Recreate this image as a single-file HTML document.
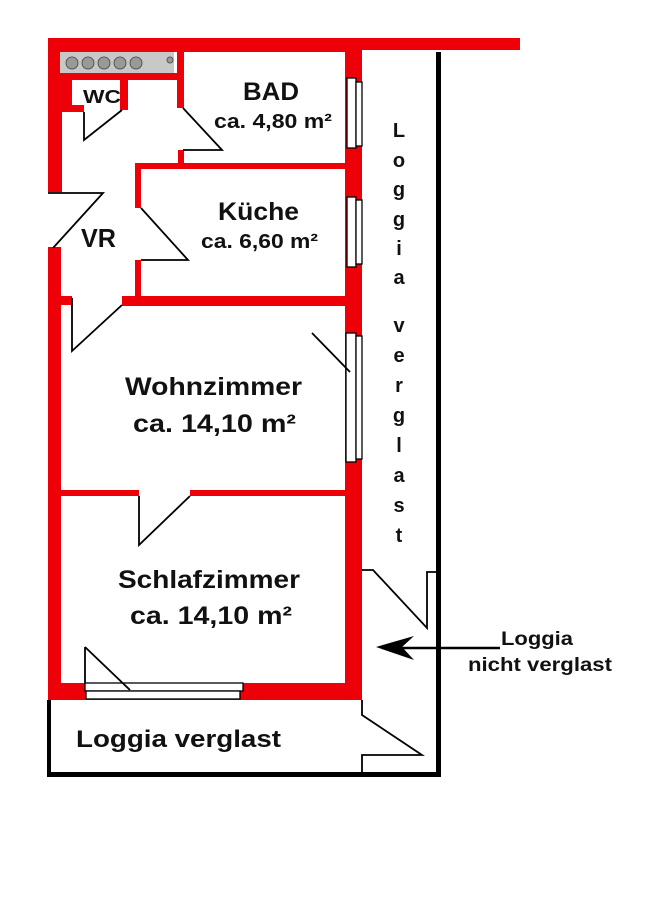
<!DOCTYPE html>
<html><head><meta charset="utf-8"><style>
html,body{margin:0;padding:0;background:#fff;}
svg{display:block;}
text{font-family:"Liberation Sans","DejaVu Sans",sans-serif;font-weight:bold;fill:#111;}
</style></head><body>
<svg width="657" height="919" viewBox="0 0 657 919" xmlns="http://www.w3.org/2000/svg">
<rect width="657" height="919" fill="#fff"/>
<g fill="#ee0008">
<rect x="48" y="38" width="472" height="12"/>
<rect x="48" y="38" width="300" height="14"/>
<rect x="48" y="38" width="14" height="154"/>
<rect x="48" y="247" width="13" height="453"/>
<rect x="60" y="73" width="118" height="7"/>
<rect x="60" y="80" width="12" height="30"/>
<rect x="60" y="105" width="24" height="7"/>
<rect x="120" y="80" width="8" height="30"/>
<rect x="177" y="50" width="7" height="58"/>
<rect x="178" y="150" width="6" height="16"/>
<rect x="135" y="163" width="212" height="6"/>
<rect x="135" y="163" width="6" height="45"/>
<rect x="135" y="260" width="6" height="42"/>
<rect x="122" y="296" width="225" height="10"/>
<rect x="61" y="296" width="11" height="9"/>
<rect x="61" y="490" width="78" height="6"/>
<rect x="190" y="490" width="157" height="6"/>
<rect x="345" y="38" width="17" height="662"/>
<rect x="48" y="683" width="314" height="17"/>
</g>
<rect x="60" y="52" width="114" height="21" fill="#c8c8c8"/>
<g fill="#999" stroke="#555" stroke-width="1">
<circle cx="72" cy="63" r="6"/><circle cx="88" cy="63" r="6"/><circle cx="104" cy="63" r="6"/><circle cx="120" cy="63" r="6"/><circle cx="136" cy="63" r="6"/><circle cx="170" cy="60" r="3"/>
</g>
<g fill="#fff" stroke="#000" stroke-width="1.3">
<rect x="347" y="78" width="9" height="70"/><rect x="356" y="82" width="6" height="64"/>
<rect x="347" y="197" width="9" height="70"/><rect x="356" y="200" width="6" height="64"/>
<rect x="346" y="333" width="10" height="129"/><rect x="356" y="336" width="6" height="123"/>
<rect x="85" y="683" width="158" height="8"/><rect x="86" y="691" width="154" height="8"/>
</g>
<g fill="none" stroke="#000" stroke-width="1.8">
<polyline points="84,112 84,140 122,110"/>
<polyline points="183,108 222,150 183,150"/>
<polyline points="141,208 188,260 141,260"/>
<polyline points="48,193 103,193 53,248"/>
<polyline points="72,298 72,351 122,305"/>
<polyline points="139,496 139,545 190,496"/>
<polyline points="312,333 350,372"/>
<polyline points="85,647 85,683"/>
<polyline points="85,647 130,690"/>
<polyline points="362,570 373,570 427,628 427,572 436,572"/>
<polyline points="362,700 362,715 422,755 362,755 362,775"/>
</g>
<g fill="#000">
<rect x="436" y="52" width="5" height="725"/>
<rect x="47" y="772" width="394" height="5"/>
<rect x="47" y="700" width="4" height="77"/>
</g>
<line x1="500" y1="648" x2="385" y2="648" stroke="#000" stroke-width="2.5"/>
<path d="M376,647 L414,636 L402,647 L414,660 Z" fill="#000"/>
<text x="83" y="103" font-size="18" textLength="38" lengthAdjust="spacingAndGlyphs">WC</text>
<text x="243" y="100" font-size="25" textLength="56" lengthAdjust="spacingAndGlyphs">BAD</text>
<text x="214" y="128" font-size="20" textLength="118" lengthAdjust="spacingAndGlyphs">ca. 4,80 m²</text>
<text x="218" y="220" font-size="25" textLength="81" lengthAdjust="spacingAndGlyphs">Küche</text>
<text x="201" y="248" font-size="20" textLength="117" lengthAdjust="spacingAndGlyphs">ca. 6,60 m²</text>
<text x="81" y="247" font-size="26" textLength="35" lengthAdjust="spacingAndGlyphs">VR</text>
<text x="125" y="395" font-size="25" textLength="177" lengthAdjust="spacingAndGlyphs">Wohnzimmer</text>
<text x="133" y="432" font-size="25" textLength="163" lengthAdjust="spacingAndGlyphs">ca. 14,10 m²</text>
<text x="118" y="588" font-size="25" textLength="182" lengthAdjust="spacingAndGlyphs">Schlafzimmer</text>
<text x="130" y="624" font-size="25" textLength="162" lengthAdjust="spacingAndGlyphs">ca. 14,10 m²</text>
<text x="76" y="747" font-size="24" textLength="205" lengthAdjust="spacingAndGlyphs">Loggia verglast</text>
<text x="501" y="645" font-size="19" textLength="72" lengthAdjust="spacingAndGlyphs">Loggia</text>
<text x="468" y="671" font-size="19" textLength="144" lengthAdjust="spacingAndGlyphs">nicht verglast</text>
<g font-size="20" text-anchor="middle">
<text x="399" y="137">L</text><text x="399" y="167">o</text><text x="399" y="196">g</text><text x="399" y="226">g</text><text x="399" y="255">i</text><text x="399" y="284">a</text>
<text x="399" y="332">v</text><text x="399" y="362">e</text><text x="399" y="392">r</text><text x="399" y="422">g</text><text x="399" y="452">l</text><text x="399" y="482">a</text><text x="399" y="512">s</text><text x="399" y="542">t</text>
</g>
</svg>
</body></html>
